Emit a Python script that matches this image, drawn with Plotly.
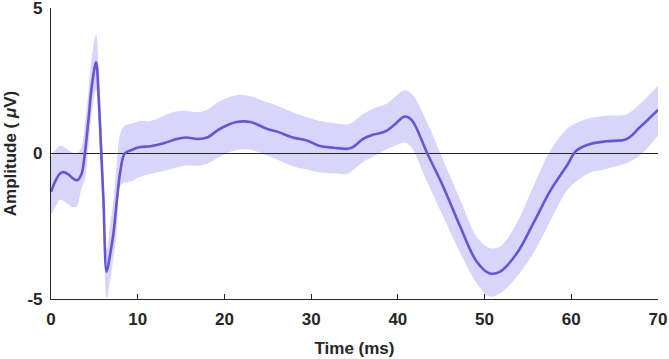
import plotly.graph_objects as go

# Time (ms)
time_ms = [0, 0.5, 1.0, 1.4, 2.0, 2.5, 3.0, 3.5, 3.9, 4.3, 4.7, 5.2, 5.5, 5.8, 6.05, 6.42,
           6.8, 7.2, 7.6, 8.0, 8.5, 9.3, 10.3, 11.5, 13, 14.5, 15.5, 17, 18, 19.5, 21.4,
           23, 24.9, 26, 28, 29.5, 31, 32.6, 34.1, 34.7, 36, 37.2, 38.5, 39.5, 40.8, 41.6,
           43.4, 45.25, 47.2, 49.1, 50.6, 51.8, 53.7, 55.6, 57.6, 59.5, 60.6, 62.2, 64.1,
           66.4, 67.9, 70]
# Mean amplitude (uV)
mean_uv = [-1.32, -0.95, -0.7, -0.64, -0.72, -0.85, -0.92, -0.72, 0.0, 1.1, 2.3, 3.13, 1.9,
           0.0, -1.6, -4.06, -3.5, -2.75, -1.6, -0.6, 0.0, 0.12, 0.22, 0.25, 0.35, 0.5, 0.55,
           0.5, 0.55, 0.85, 1.08, 1.08, 0.85, 0.76, 0.54, 0.45, 0.26, 0.2, 0.16, 0.2, 0.5,
           0.65, 0.75, 0.96, 1.27, 1.15, 0.0, -1.15, -2.52, -3.72, -4.12, -4.06, -3.44,
           -2.41, -1.27, -0.41, 0.1, 0.33, 0.42, 0.5, 0.9, 1.5]
# Upper edge of shaded band
upper_uv = [-0.1, 0.12, 0.25, 0.25, 0.12, 0.03, 0.0, 0.2, 1.0, 2.1, 3.3, 4.1, 2.9, 1.0, -0.7,
            -3.3, -2.5, -1.6, -0.3, 0.7, 0.95, 1.02, 1.12, 1.12, 1.3, 1.45, 1.47, 1.42, 1.5,
            1.8, 2.0, 1.97, 1.76, 1.65, 1.4, 1.25, 1.12, 1.05, 1.0, 1.05, 1.36, 1.55, 1.68,
            1.9, 2.17, 2.05, 1.05, -0.24, -1.6, -2.87, -3.25, -3.2, -2.4, -1.15, 0.1, 0.85,
            1.05, 1.22, 1.3, 1.35, 1.7, 2.33]
# Lower edge of shaded band
lower_uv = [-2.1, -1.85, -1.6, -1.62, -1.75, -1.84, -1.8, -1.2, -0.9, 0.2, 1.4, 2.2, 1.0,
            -0.9, -2.6, -4.97, -4.4, -3.6, -2.6, -1.1, -1.0, -0.95, -0.8, -0.7, -0.6, -0.48,
            -0.42, -0.42, -0.35, -0.1, 0.12, 0.13, -0.07, -0.2, -0.45, -0.55, -0.65, -0.68,
            -0.7, -0.6, -0.28, -0.1, 0.12, 0.25, 0.38, 0.2, -1.0, -2.18, -3.42, -4.46, -4.92,
            -4.8, -4.24, -3.44, -2.3, -1.27, -0.95, -0.65, -0.52, -0.33, -0.07, 0.62]

x_ticks = [0, 10, 20, 30, 40, 50, 60, 70]
x_tick_labels = ["0", "10", "20", "30", "40", "50", "60", "70"]
y_ticks = [-5, 0, 5]
y_tick_labels = ["-5", "0", "5"]
zero_x = [0, 70]
zero_y = [0, 0]

LINE = "#6556d4"
BAND = "#d8d4fa"
FONT = "Liberation Sans, Arial, Helvetica, sans-serif"
INK = "#262626"

fig = go.Figure()
fig.add_trace(go.Scatter(x=time_ms, y=upper_uv, mode="lines", line=dict(width=0, color=BAND, shape="spline"),
                         hoverinfo="skip", showlegend=False))
fig.add_trace(go.Scatter(x=time_ms, y=lower_uv, mode="lines", line=dict(width=0, color=BAND, shape="spline"),
                         fill="tonexty", fillcolor=BAND, hoverinfo="skip", showlegend=False))
fig.add_trace(go.Scatter(x=zero_x, y=zero_y, mode="lines", line=dict(color=INK, width=1),
                         hoverinfo="skip", showlegend=False))
fig.add_trace(go.Scatter(x=time_ms, y=mean_uv, mode="lines", line=dict(color=LINE, width=2.6, shape="spline"),
                         showlegend=False))

fig.update_layout(
    width=669, height=359,
    margin=dict(l=51, r=11, t=8, b=60),
    paper_bgcolor="white", plot_bgcolor="white",
    font=dict(family=FONT, color=INK),
    showlegend=False,
)
fig.update_xaxes(
    range=[0, 70], tickvals=x_ticks, ticktext=["<b>%s</b>" % t for t in x_tick_labels],
    ticks="inside", ticklen=5, tickcolor=INK, showline=True, linecolor=INK, linewidth=1.2,
    showgrid=False, zeroline=False, tickfont=dict(size=17, family=FONT, color=INK),
    ticklabeloverflow="allow", automargin=False, ticklabelstandoff=4,
    title=dict(text="<b>Time (ms)</b>", font=dict(size=17, family=FONT, color=INK), standoff=14),
)
fig.update_yaxes(
    range=[-5, 5], tickvals=y_ticks, ticktext=["<b>%s</b>" % t for t in y_tick_labels],
    ticks="inside", ticklen=5, tickcolor=INK, showline=True, linecolor=INK, linewidth=1.2,
    showgrid=False, zeroline=False, tickfont=dict(size=17, family=FONT, color=INK),
    ticklabeloverflow="allow", automargin=False, ticklabelstandoff=4,
    title=dict(text="<b>Amplitude ( <i>μ</i>V)</b>", font=dict(size=17, family=FONT, color=INK), standoff=6),
)

fig.write_html("out.html", config={"displayModeBar": False},
               post_script="document.body.style.margin='0';document.body.style.overflow='hidden';")
